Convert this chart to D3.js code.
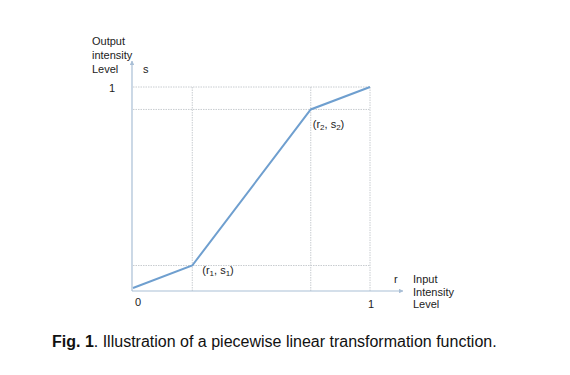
<!DOCTYPE html>
<html lang="en">
<head>
    <meta charset="UTF-8">
    <title>Piecewise linear transformation</title>
    <style>
        body { margin: 0; background: #fff; }
        svg { display: block; font-family: "Liberation Sans", Arial, sans-serif; }
        .lbl { font-size: 11px; fill: #222; }
        .grid { stroke: #c8ccd0; stroke-width: 1; stroke-dasharray: 1.5 1; fill: none; }
        .axis { stroke: #a9bfd6; stroke-width: 1.2; fill: none; }
    </style>
</head>
<body>
    <div id="chart"></div>
    <script src="https://d3js.org/d3.v7.min.js"></script>
    <script>
        // breakpoints of the transformation (r -> s)
        const rValues = [0, 0.25, 0.75, 1];
        const sValues = [0.015, 0.125, 0.89, 1];
        const pointIdx = [null, 1, 2, null];

        const width = 570, height = 375;

        const svg = d3.select("#chart").append("svg")
            .attr("width", width)
            .attr("height", height);

        const x = d3.scaleLinear().domain([0, 1]).range([133, 370]);
        const y = d3.scaleLinear().domain([0, 1]).range([291, 87]);

        const defs = svg.append("defs");
        defs.append("marker")
            .attr("id", "arr")
            .attr("viewBox", "0 0 10 10")
            .attr("refX", 9).attr("refY", 5)
            .attr("markerWidth", 4).attr("markerHeight", 4)
            .attr("orient", "auto")
            .append("path")
            .attr("d", "M0,0L10,5L0,10z")
            .attr("fill", "#a9bfd6");

        // dotted guide lines
        const pts = rValues.map((r, i) => ({ r: r, s: sValues[i], idx: pointIdx[i] }));
        const guides = pts.slice(1);

        svg.selectAll(".vgrid")
            .data(guides)
            .enter().append("line")
            .attr("class", "grid")
            .attr("x1", d => x(d.r)).attr("x2", d => x(d.r))
            .attr("y1", y(1)).attr("y2", y(0));

        svg.selectAll(".hgrid")
            .data(guides)
            .enter().append("line")
            .attr("class", "grid")
            .attr("x1", x(0)).attr("x2", x(1))
            .attr("y1", d => y(d.s)).attr("y2", d => y(d.s));

        // axes
        svg.append("line").attr("class", "axis")
            .attr("x1", x(0) - 1).attr("x2", x(0) - 1)
            .attr("y1", y(0)).attr("y2", 61)
            .attr("marker-end", "url(#arr)");
        svg.append("line").attr("class", "axis")
            .attr("x1", x(0) - 1).attr("x2", 403)
            .attr("y1", y(0)).attr("y2", y(0))
            .attr("marker-end", "url(#arr)");

        // transformation curve
        const line = d3.line().x(d => x(d.r)).y(d => y(d.s));
        svg.append("path")
            .datum(pts)
            .attr("d", line)
            .attr("fill", "none")
            .attr("stroke", "#6f9fcf")
            .attr("stroke-width", 2);

        // point labels (r_i, s_i)
        const pl = svg.selectAll(".plabel")
            .data(pts.filter(d => d.idx))
            .enter().append("text")
            .attr("class", "lbl")
            .attr("x", (d, i) => x(d.r) + (i === 0 ? 10 : 2))
            .attr("y", (d, i) => i === 0 ? y(d.s) + 8 : y(d.s) + 19);
        pl.append("tspan").text("(r");
        pl.append("tspan").attr("font-size", "8px").attr("dy", 2).text(d => d.idx);
        pl.append("tspan").attr("dy", -2).text(", s");
        pl.append("tspan").attr("font-size", "8px").attr("dy", 2).text(d => d.idx);
        pl.append("tspan").attr("dy", -2).text(")");

        // axis labels
        const yLabel = ["Output", "intensity", "Level"];
        svg.append("text").attr("class", "lbl")
            .selectAll("tspan").data(yLabel).enter().append("tspan")
            .attr("x", 92).attr("y", (d, i) => 45 + i * 14)
            .text(d => d);
        svg.append("text").attr("class", "lbl").attr("x", 143).attr("y", 73).text("s");
        svg.append("text").attr("class", "lbl").attr("x", 109).attr("y", 92).text("1");
        svg.append("text").attr("class", "lbl").attr("x", 135).attr("y", 306).text("0");
        svg.append("text").attr("class", "lbl").attr("x", 368).attr("y", 308).text("1");
        svg.append("text").attr("class", "lbl").attr("x", 394).attr("y", 283).text("r");

        const xLabel = ["Input", "Intensity", "Level"];
        svg.append("text").attr("class", "lbl")
            .selectAll("tspan").data(xLabel).enter().append("tspan")
            .attr("x", 413).attr("y", (d, i) => 283 + i * 12.5)
            .text(d => d);

        // caption
        const cap = svg.append("text")
            .attr("x", 52).attr("y", 347)
            .attr("font-size", "16px")
            .attr("fill", "#111");
        cap.append("tspan").attr("font-weight", "bold").text("Fig. 1");
        cap.append("tspan").text(". Illustration of a piecewise linear transformation function.");
    </script>
</body>
</html>
